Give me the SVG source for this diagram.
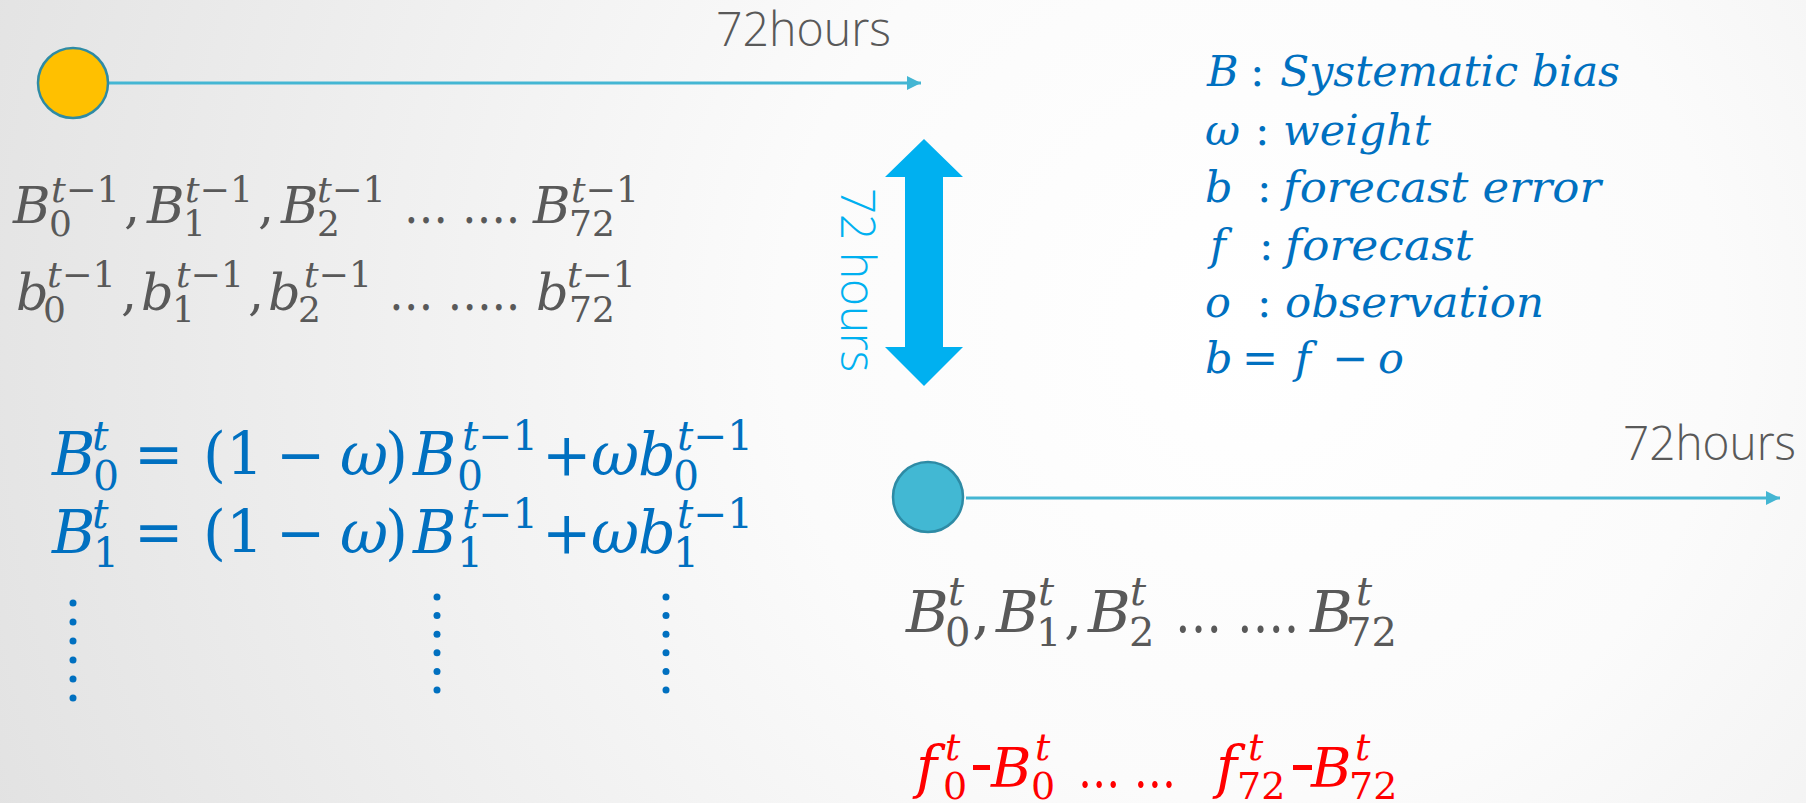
<svg xmlns="http://www.w3.org/2000/svg" width="1806" height="803" viewBox="0 0 1806 803">
<defs>
<radialGradient id="bg" gradientUnits="userSpaceOnUse" cx="1250" cy="330" r="1350">
<stop offset="0" stop-color="#ffffff"/>
<stop offset="0.35" stop-color="#fbfbfb"/>
<stop offset="1" stop-color="#e2e2e2"/>
</radialGradient>
<marker id="ah" markerUnits="userSpaceOnUse" markerWidth="16" markerHeight="16" refX="14" refY="7" orient="auto">
<path d="M0,0 L14,7 L0,14 Z" fill="#44B6D3"/>
</marker>
<style>
.m{font-family:"DejaVu Serif","Liberation Serif",serif;font-style:italic}
.u{font-family:"DejaVu Serif","Liberation Serif",serif;font-style:normal}
.g{fill:#595959}
.bl{fill:#0070C0}
.rd{fill:#FF0000}
.hrs{font-family:"Open Sans","Liberation Sans",sans-serif;font-weight:300;fill:#595959;font-size:48px}
.tl{stroke:#44B6D3;stroke-width:3;fill:none}
.dot{fill:#0070C0}
</style>
</defs>
<rect x="0" y="0" width="1806" height="803" fill="url(#bg)"/>

<g id="connectors">
<line class="tl" x1="109" y1="83" x2="921" y2="83" marker-end="url(#ah)"/>
<line class="tl" x1="966" y1="498" x2="1780" y2="498" marker-end="url(#ah)"/>
</g>

<g id="node-start-prev">
<circle cx="73" cy="83" r="35" fill="#FFC000" stroke="#2E8BA5" stroke-width="2.5"/>
</g>
<g id="node-start-curr">
<circle cx="928" cy="497" r="35" fill="#42B8D3" stroke="#2E8BA5" stroke-width="2.5"/>
</g>

<g id="label-72hours-top">
<text class="hrs" x="716" y="46" textLength="175" lengthAdjust="spacingAndGlyphs">72hours</text>
</g>
<g id="label-72hours-bottom">
<text class="hrs" x="1623" y="460" textLength="173" lengthAdjust="spacingAndGlyphs">72hours</text>
</g>

<g id="double-arrow">
<path d="M924,139 L963,177 L943,177 L943,347 L963,347 L924,386 L885,347 L905,347 L905,177 L885,177 Z" fill="#00B0F0"/>
<text transform="translate(841,188) rotate(90)" font-family="Open Sans, Liberation Sans, sans-serif" font-weight="300" font-size="48" fill="#00B0F0" textLength="184" lengthAdjust="spacingAndGlyphs">72 hours</text>
</g>

<g id="prev-B-row" class="g">
<text class="m" x="13" y="223" font-size="51">B</text>
<text class="u" x="49" y="236" font-size="36">0</text>
<text x="51" y="202" font-size="36" textLength="69" lengthAdjust="spacingAndGlyphs"><tspan class="m">t</tspan><tspan class="u">−1</tspan></text>
<text class="u" x="124" y="223" font-size="51">,</text>
<text class="m" x="147" y="223" font-size="51">B</text>
<text class="u" x="183" y="236" font-size="36">1</text>
<text x="185" y="202" font-size="36" textLength="68" lengthAdjust="spacingAndGlyphs"><tspan class="m">t</tspan><tspan class="u">−1</tspan></text>
<text class="u" x="258" y="223" font-size="51">,</text>
<text class="m" x="281" y="223" font-size="51">B</text>
<text class="u" x="317" y="236" font-size="36">2</text>
<text x="317" y="202" font-size="36" textLength="69" lengthAdjust="spacingAndGlyphs"><tspan class="m">t</tspan><tspan class="u">−1</tspan></text>
<text class="u" x="404" y="223" font-size="51" textLength="116" lengthAdjust="spacingAndGlyphs">… ….</text>
<text class="m" x="533" y="223" font-size="51">B</text>
<text class="u" x="569" y="236" font-size="36">72</text>
<text x="571" y="202" font-size="36" textLength="68" lengthAdjust="spacingAndGlyphs"><tspan class="m">t</tspan><tspan class="u">−1</tspan></text>
</g>

<g id="prev-b-row" class="g">
<text class="m" x="16" y="310" font-size="51">b</text>
<text class="u" x="43" y="322" font-size="36">0</text>
<text x="47" y="287" font-size="36" textLength="69" lengthAdjust="spacingAndGlyphs"><tspan class="m">t</tspan><tspan class="u">−1</tspan></text>
<text class="u" x="121" y="310" font-size="51">,</text>
<text class="m" x="141" y="310" font-size="51">b</text>
<text class="u" x="172" y="322" font-size="36">1</text>
<text x="176" y="287" font-size="36" textLength="68" lengthAdjust="spacingAndGlyphs"><tspan class="m">t</tspan><tspan class="u">−1</tspan></text>
<text class="u" x="248" y="310" font-size="51">,</text>
<text class="m" x="268" y="310" font-size="51">b</text>
<text class="u" x="298" y="322" font-size="36">2</text>
<text x="304" y="287" font-size="36" textLength="68" lengthAdjust="spacingAndGlyphs"><tspan class="m">t</tspan><tspan class="u">−1</tspan></text>
<text class="u" x="389" y="310" font-size="51" textLength="131" lengthAdjust="spacingAndGlyphs">… …..</text>
<text class="m" x="536" y="310" font-size="51">b</text>
<text class="u" x="569" y="322" font-size="36">72</text>
<text x="567" y="287" font-size="36" textLength="69" lengthAdjust="spacingAndGlyphs"><tspan class="m">t</tspan><tspan class="u">−1</tspan></text>
</g>

<g id="equation-0" class="bl">
<text class="m" x="52" y="475" font-size="59">B</text>
<text class="u" x="93" y="490" font-size="41">0</text>
<text class="m" x="92" y="450" font-size="41">t</text>
<text class="u" x="134" y="475" font-size="59">=</text>
<text class="u" x="203" y="475" font-size="59">(1</text>
<text class="u" x="276" y="475" font-size="59">−</text>
<text class="m" x="340" y="475" font-size="59">ω</text>
<text class="u" x="385" y="475" font-size="59">)</text>
<text class="m" x="413" y="475" font-size="59">B</text>
<text class="u" x="457" y="490" font-size="41">0</text>
<text x="462" y="450" font-size="41" textLength="76" lengthAdjust="spacingAndGlyphs"><tspan class="m">t</tspan><tspan class="u">−1</tspan></text>
<text class="u" x="542" y="475" font-size="59">+</text>
<text class="m" x="591" y="475" font-size="59">ω</text>
<text class="m" x="638" y="475" font-size="59">b</text>
<text class="u" x="673" y="490" font-size="41">0</text>
<text x="677" y="450" font-size="41" textLength="76" lengthAdjust="spacingAndGlyphs"><tspan class="m">t</tspan><tspan class="u">−1</tspan></text>
</g>

<g id="equation-1" class="bl">
<text class="m" x="52" y="553" font-size="59">B</text>
<text class="u" x="93" y="567" font-size="41">1</text>
<text class="m" x="92" y="528" font-size="41">t</text>
<text class="u" x="134" y="553" font-size="59">=</text>
<text class="u" x="203" y="553" font-size="59">(1</text>
<text class="u" x="276" y="553" font-size="59">−</text>
<text class="m" x="340" y="553" font-size="59">ω</text>
<text class="u" x="385" y="553" font-size="59">)</text>
<text class="m" x="413" y="553" font-size="59">B</text>
<text class="u" x="457" y="567" font-size="41">1</text>
<text x="462" y="528" font-size="41" textLength="76" lengthAdjust="spacingAndGlyphs"><tspan class="m">t</tspan><tspan class="u">−1</tspan></text>
<text class="u" x="542" y="553" font-size="59">+</text>
<text class="m" x="591" y="553" font-size="59">ω</text>
<text class="m" x="638" y="553" font-size="59">b</text>
<text class="u" x="673" y="567" font-size="41">1</text>
<text x="677" y="528" font-size="41" textLength="76" lengthAdjust="spacingAndGlyphs"><tspan class="m">t</tspan><tspan class="u">−1</tspan></text>
</g>

<g id="vdots">
<circle class="dot" cx="73" cy="603" r="3.5"/><circle class="dot" cx="73" cy="622" r="3.5"/><circle class="dot" cx="73" cy="641" r="3.5"/><circle class="dot" cx="73" cy="660" r="3.5"/><circle class="dot" cx="73" cy="679" r="3.5"/><circle class="dot" cx="73" cy="698" r="3.5"/>
<circle class="dot" cx="437" cy="597" r="3.5"/><circle class="dot" cx="437" cy="615.6" r="3.5"/><circle class="dot" cx="437" cy="634.2" r="3.5"/><circle class="dot" cx="437" cy="652.8" r="3.5"/><circle class="dot" cx="437" cy="671.4" r="3.5"/><circle class="dot" cx="437" cy="690" r="3.5"/>
<circle class="dot" cx="666" cy="597" r="3.5"/><circle class="dot" cx="666" cy="615.6" r="3.5"/><circle class="dot" cx="666" cy="634.2" r="3.5"/><circle class="dot" cx="666" cy="652.8" r="3.5"/><circle class="dot" cx="666" cy="671.4" r="3.5"/><circle class="dot" cx="666" cy="690" r="3.5"/>
</g>

<g id="legend" class="bl">
<text class="m" x="1207" y="86" font-size="43">B</text>
<text class="u" x="1250" y="86" font-size="43">:</text>
<text class="m" x="1280" y="86" font-size="43" textLength="340" lengthAdjust="spacingAndGlyphs">Systematic bias</text>
<text class="m" x="1205" y="145" font-size="43">ω</text>
<text class="u" x="1255" y="145" font-size="43">:</text>
<text class="m" x="1283" y="145" font-size="43" textLength="148" lengthAdjust="spacingAndGlyphs">weight</text>
<text class="m" x="1205" y="202" font-size="43">b</text>
<text class="u" x="1257" y="202" font-size="43">:</text>
<text class="m" x="1283" y="202" font-size="43" textLength="318" lengthAdjust="spacingAndGlyphs">forecast error</text>
<text class="m" x="1210" y="260" font-size="43">f</text>
<text class="u" x="1259" y="260" font-size="43">:</text>
<text class="m" x="1285" y="260" font-size="43" textLength="188" lengthAdjust="spacingAndGlyphs">forecast</text>
<text class="m" x="1205" y="317" font-size="43">o</text>
<text class="u" x="1257" y="317" font-size="43">:</text>
<text class="m" x="1285" y="317" font-size="43" textLength="259" lengthAdjust="spacingAndGlyphs">observation</text>
<text class="m" x="1205" y="373" font-size="43">b</text>
<text class="u" x="1242" y="373" font-size="43">=</text>
<text class="m" x="1295" y="373" font-size="43">f</text>
<text class="u" x="1332" y="373" font-size="43">−</text>
<text class="m" x="1378" y="373" font-size="43">o</text>
</g>

<g id="curr-B-row" class="g">
<text class="m" x="906" y="632" font-size="58">B</text>
<text class="u" x="945" y="646" font-size="40">0</text>
<text class="m" x="948" y="605" font-size="40">t</text>
<text class="u" x="972" y="632" font-size="58">,</text>
<text class="m" x="996" y="632" font-size="58">B</text>
<text class="u" x="1036" y="646" font-size="40">1</text>
<text class="m" x="1038" y="605" font-size="40">t</text>
<text class="u" x="1064" y="632" font-size="58">,</text>
<text class="m" x="1088" y="632" font-size="58">B</text>
<text class="u" x="1129" y="646" font-size="40">2</text>
<text class="m" x="1130" y="605" font-size="40">t</text>
<text class="u" x="1175" y="632" font-size="58" textLength="124" lengthAdjust="spacingAndGlyphs">… ….</text>
<text class="m" x="1310" y="632" font-size="58">B</text>
<text class="u" x="1346" y="646" font-size="40">72</text>
<text class="m" x="1356" y="605" font-size="40">t</text>
</g>

<g id="corrected-forecast-row" class="rd">
<text class="m" x="916" y="787" font-size="57">f</text>
<text class="u" x="943" y="799" font-size="38">0</text>
<text class="m" x="945" y="760" font-size="38">t</text>
<rect x="973" y="765" width="17" height="5"/>
<text class="m" x="991" y="787" font-size="55">B</text>
<text class="u" x="1031" y="799" font-size="38">0</text>
<text class="m" x="1035" y="760" font-size="38">t</text>
<text class="u" x="1078" y="787" font-size="55" textLength="98" lengthAdjust="spacingAndGlyphs">… …</text>
<text class="m" x="1216" y="787" font-size="57">f</text>
<text class="u" x="1237" y="799" font-size="38">72</text>
<text class="m" x="1248" y="760" font-size="38">t</text>
<rect x="1293" y="765" width="19" height="5"/>
<text class="m" x="1311" y="787" font-size="55">B</text>
<text class="u" x="1349" y="799" font-size="38">72</text>
<text class="m" x="1355" y="760" font-size="38">t</text>
</g>
</svg>
